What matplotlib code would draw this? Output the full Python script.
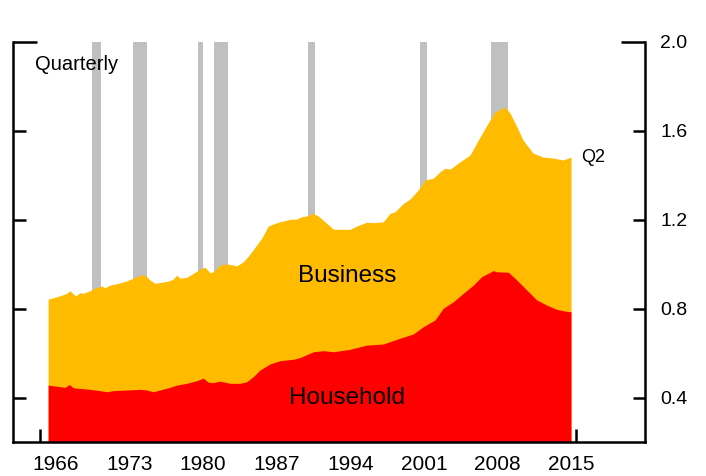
import matplotlib
matplotlib.use('Agg')
import matplotlib.pyplot as plt

plt.rcParams['font.family'] = ['Liberation Sans', 'DejaVu Sans']

## Debt-to-GDP ratios, quarterly (read in fractional years)
total_years = [1965.75, 1966.24, 1966.88, 1967.52, 1967.83, 1968.15, 1968.40, 1968.78,
               1969.10, 1969.74, 1970.21, 1970.85, 1971.16, 1971.64, 1972.43, 1973.28,
               1973.85, 1974.49, 1974.97, 1975.44, 1975.92, 1976.56, 1977.19, 1977.66,
               1977.98, 1978.30, 1978.94, 1979.56, 1980.36, 1980.68, 1981.15, 1981.47,
               1982.10, 1982.74, 1983.37, 1983.69, 1984.32, 1984.89, 1986.07, 1986.70,
               1987.34, 1987.81, 1988.76, 1989.40, 1989.88, 1990.35, 1990.92, 1991.46,
               1992.09, 1992.88, 1993.52, 1994.47, 1995.11, 1996.06, 1996.69, 1997.64,
               1998.28, 1998.76, 1999.55, 2000.18, 2000.97, 2001.61, 2002.40, 2003.04,
               2003.51, 2003.99, 2004.94, 2005.89, 2006.84, 2007.79, 2008.27, 2009.22,
               2009.70, 2010.36, 2010.93, 2011.89, 2012.84, 2013.79, 2014.74, 2015.50]
total_ratio = [0.843, 0.849, 0.858, 0.869, 0.881, 0.865, 0.858, 0.872,
               0.869, 0.881, 0.892, 0.902, 0.894, 0.906, 0.914, 0.926,
               0.937, 0.951, 0.951, 0.929, 0.914, 0.919, 0.924, 0.933,
               0.951, 0.937, 0.941, 0.959, 0.982, 0.986, 0.962, 0.966,
               0.996, 1.001, 0.996, 0.992, 1.011, 1.041, 1.117, 1.172,
               1.184, 1.191, 1.202, 1.203, 1.214, 1.217, 1.229, 1.217,
               1.191, 1.158, 1.157, 1.157, 1.172, 1.189, 1.187, 1.191,
               1.229, 1.236, 1.274, 1.293, 1.334, 1.379, 1.387, 1.416,
               1.432, 1.428, 1.461, 1.491, 1.572, 1.649, 1.685, 1.707,
               1.680, 1.617, 1.559, 1.500, 1.482, 1.478, 1.469, 1.482]

household_years = [1965.75, 1966.40, 1967.36, 1967.77, 1968.15, 1968.78, 1969.74, 1970.69,
                   1971.32, 1971.95, 1973.23, 1974.49, 1975.13, 1975.76, 1976.40, 1977.35,
                   1977.98, 1978.94, 1979.89, 1980.52, 1980.99, 1981.47, 1982.10, 1983.06,
                   1984.01, 1984.64, 1985.27, 1985.91, 1986.86, 1987.81, 1989.08, 1989.72,
                   1990.98, 1991.93, 1992.88, 1994.47, 1996.06, 1997.64, 1999.23, 2000.50,
                   2001.45, 2002.56, 2003.35, 2004.30, 2005.25, 2006.21, 2007.00, 2008.11,
                   2008.43, 2009.54, 2010.34, 2011.29, 2012.24, 2013.19, 2014.14, 2014.93,
                   2015.50]
household_ratio = [0.456, 0.452, 0.446, 0.459, 0.444, 0.441, 0.437, 0.431,
                   0.426, 0.431, 0.434, 0.437, 0.434, 0.426, 0.434, 0.446,
                   0.456, 0.464, 0.476, 0.487, 0.469, 0.467, 0.474, 0.464,
                   0.464, 0.471, 0.494, 0.524, 0.551, 0.566, 0.572, 0.580,
                   0.606, 0.611, 0.606, 0.617, 0.636, 0.641, 0.667, 0.686,
                   0.719, 0.749, 0.802, 0.831, 0.869, 0.906, 0.944, 0.971,
                   0.966, 0.964, 0.929, 0.884, 0.839, 0.816, 0.797, 0.789,
                   0.786]

# NBER recessions (start, end)
recessions = [(1969.92, 1970.83), (1973.83, 1975.17), (1980.0, 1980.5),
              (1981.5, 1982.83), (1990.5, 1991.17), (2001.17, 2001.83),
              (2007.92, 2009.5)]

year_labels = ['1966', '1973', '1980', '1987', '1994', '2001', '2008', '2015']
y_ticks = [0.4, 0.8, 1.2, 1.6, 2.0]

GOLD = '#FFBB00'
RED = '#FF0000'
GRAY = '#C0C0C0'

fig = plt.figure(figsize=(7.06, 4.76), dpi=100)
ax = fig.add_axes([13/706, 34/476, 632/706, 400/476])

for start, end in recessions:
    ax.axvspan(start, end, color=GRAY, lw=0, zorder=0)

ax.fill_between(total_years, 0.0, total_ratio, color=GOLD, lw=0, zorder=1)
ax.fill_between(household_years, 0.0, household_ratio, color=RED, lw=0, zorder=2)

ax.set_xlim(1962.41, 2022.54)
ax.set_ylim(0.2, 2.0)

# labels sit mid-year, tick marks only at the ends
ax.set_xticks([int(y) + 0.5 for y in year_labels])
ax.set_xticklabels(year_labels, fontsize=15)
ax.set_xticks([1965, 2016], minor=True)
ax.tick_params(axis='x', which='major', length=0, pad=9)
ax.tick_params(axis='x', which='minor', direction='in', length=9.5, width=1.8)

ax.set_yticks(y_ticks)
ax.set_yticklabels(['%.1f' % v for v in y_ticks], fontsize=14)
ax.tick_params(axis='y', direction='in', length=9, width=1.8, left=True, right=True,
               labelleft=False, labelright=True, pad=11)
top_tick = ax.yaxis.get_major_ticks()[-1]
top_tick.tick1line.set_markersize(17.5)
top_tick.tick2line.set_markersize(17.5)

ax.spines['top'].set_visible(False)
for side in ['left', 'right', 'bottom']:
    ax.spines[side].set_linewidth(1.8)

ax.text(0.035, 0.945, 'Quarterly', transform=ax.transAxes, fontsize=14.5,
        ha='left', va='center')
ax.text(2016.5, 1.478, 'Q2', fontsize=13, ha='left', va='center')
ax.text(1994.2, 0.945, 'Business', fontsize=17.5, ha='center', va='center')
ax.text(1994.2, 0.397, 'Household', fontsize=17.5, ha='center', va='center')

fig.savefig('out.png', dpi=100)
